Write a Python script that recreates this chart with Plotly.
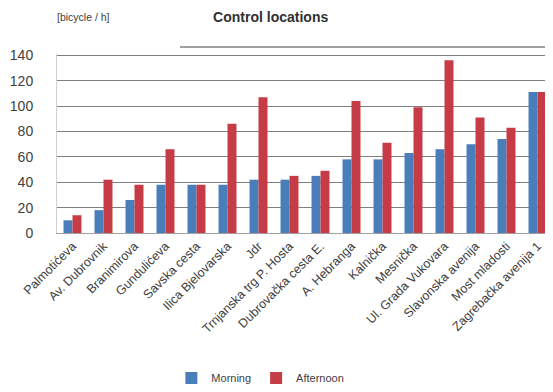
import plotly.graph_objects as go

locations = ["Palmotićeva", "Av. Dubrovnik", "Branimirova", "Gundulićeva", "Savska cesta",
             "Ilica Bjelovarska", "Jdr", "Trnjanska trg P. Hosta", "Dubrovačka cesta E.",
             "A. Hebranga", "Kalnička", "Mesnička", "Ul. Grada Vukovara", "Slavonska avenija",
             "Most mladosti", "Zagrebačka avenija 1"]
morning = [10, 18, 26, 38, 38, 38, 42, 42, 45, 58, 58, 63, 66, 70, 74, 111]
afternoon = [14, 42, 38, 66, 38, 86, 107, 45, 49, 104, 71, 99, 136, 91, 83, 111]
y_ticks = [0, 20, 40, 60, 80, 100, 120, 140]

fig = go.Figure()
fig.add_trace(go.Bar(x=locations, y=morning, name="Morning", marker_color="#4a7ebb",
                     marker_line_width=0))
fig.add_trace(go.Bar(x=locations, y=afternoon, name="Afternoon", marker_color="#c63c46",
                     marker_line_width=0))

fig.update_layout(
    width=553, height=392,
    margin=dict(l=49, r=8, t=46, b=167),
    paper_bgcolor="white", plot_bgcolor="white",
    font=dict(family="Liberation Sans, Arial, sans-serif", size=11, color="#404040"),
    barmode="group", bargap=0.42, bargroupgap=0.0,
    title=dict(text="<b>Control locations</b>", x=0.475, xanchor="center", y=0.977, yanchor="middle",
               font=dict(size=14, color="#303030")),
    legend=dict(orientation="h", x=0.41, xanchor="center", y=-0.81, yanchor="middle",
                font=dict(size=11, color="#404040"), itemwidth=30),
    showlegend=True,
)
fig.update_xaxes(tickangle=-45, tickfont=dict(size=12.5, color="#404040"), showline=True,
                 linecolor="#a0a0a0", ticks="", showgrid=False, automargin=False)
fig.update_yaxes(range=[0, 141], tickvals=y_ticks, tickfont=dict(size=14, color="#404040"),
                 ticklabelstandoff=20,
                 showgrid=True, gridcolor="#808080", gridwidth=1.2, showline=True, linecolor="#d0d0d0",
                 zeroline=False, automargin=False)
fig.add_annotation(text="[bicycle / h]", xref="paper", yref="paper", x=-0.004, y=1.207,
                   xanchor="left", yanchor="middle", showarrow=False, font=dict(size=10.5, color="#404040"))
fig.add_shape(type="line", xref="paper", yref="paper", x0=0.248, x1=1.05, y0=1.039, y1=1.039,
              line=dict(color="#808080", width=1.5))

fig.write_html("out.html")
